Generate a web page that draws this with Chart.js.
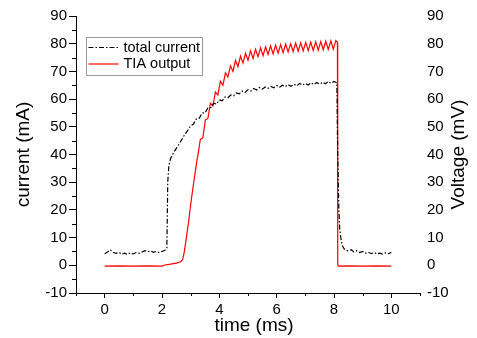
<!DOCTYPE html>
<html>
<head>
<meta charset="utf-8">
<script src="https://cdn.jsdelivr.net/npm/chart.js@4.4.1/dist/chart.umd.min.js"></script>
<style>
  html, body { margin: 0; padding: 0; background: #fff; }
</style>
</head>
<body>
<canvas id="chart" width="477" height="338"></canvas>
<script>
// time (ms), total current (mA)
const totalCurrent = [
  [0.0, 4.2], [0.1, 4.8], [0.2, 5.6], [0.3, 4.6], [0.4, 4.3], [0.5, 4.7], [0.6, 4.0], [0.7, 4.4],
  [0.8, 3.9], [0.9, 4.5], [1.0, 4.1], [1.1, 4.6], [1.2, 4.3], [1.3, 4.8], [1.4, 5.3], [1.5, 4.9],
  [1.6, 5.2], [1.7, 4.7], [1.8, 5.0], [1.9, 4.6], [2.0, 5.0], [2.1, 5.4], [2.17, 6.2], [2.2, 30.0],
  [2.24, 36.0], [2.3, 38.6], [2.4, 40.6], [2.5, 42.2], [2.6, 43.8], [2.7, 45.6], [2.8, 47.3], [2.9, 48.7],
  [3.0, 50.4], [3.1, 51.0], [3.2, 52.9], [3.3, 53.1], [3.4, 55.0], [3.5, 55.0], [3.6, 56.8], [3.7, 56.9],
  [3.8, 58.5], [3.9, 58.2], [4.0, 59.7], [4.1, 59.4], [4.2, 60.8], [4.3, 60.5], [4.4, 61.5], [4.5, 61.2],
  [4.6, 62.2], [4.7, 61.9], [4.8, 62.9], [4.9, 62.4], [5.0, 63.4], [5.1, 62.9], [5.2, 63.8], [5.3, 63.3],
  [5.4, 64.2], [5.5, 63.6], [5.6, 64.4], [5.7, 63.9], [5.8, 64.6], [5.9, 64.1], [6.0, 64.9], [6.1, 64.3],
  [6.2, 65.0], [6.3, 64.5], [6.4, 65.2], [6.5, 64.6], [6.6, 65.4], [6.7, 64.8], [6.8, 65.6], [6.9, 65.0],
  [7.0, 65.7], [7.1, 65.1], [7.2, 65.9], [7.3, 65.3], [7.4, 66.0], [7.5, 65.4], [7.6, 66.1], [7.7, 65.5],
  [7.8, 66.3], [7.9, 65.7], [8.0, 66.4], [8.1, 65.9], [8.13, 40.0], [8.17, 20.0], [8.2, 13.0], [8.25, 9.0],
  [8.3, 7.0], [8.35, 6.0], [8.4, 5.5], [8.5, 5.2], [8.6, 5.6], [8.7, 4.8], [8.8, 5.3], [8.9, 4.6],
  [9.0, 5.0], [9.1, 4.4], [9.2, 4.7], [9.3, 4.2], [9.4, 4.6], [9.5, 4.1], [9.6, 4.4], [9.7, 4.0],
  [9.8, 4.5], [9.9, 4.2], [10.0, 4.6]
];

// time (ms), TIA output (mV)
const tiaOutput = [
  [0.0, -0.3], [0.5, -0.2], [1.0, -0.3], [1.5, -0.2], [2.0, -0.3], [2.1, 0.1], [2.3, 0.4], [2.5, 0.8],
  [2.65, 1.3], [2.72, 2.0], [2.78, 5.0], [2.85, 10.0], [2.92, 15.0], [3.0, 22.0], [3.08, 28.0], [3.15, 33.0],
  [3.22, 38.0], [3.25, 39.5], [3.338, 45.5], [3.425, 46.0], [3.513, 52.5], [3.6, 53.0], [3.688, 58.5], [3.775, 57.5],
  [3.863, 62.5], [3.95, 61.5], [4.038, 66.5], [4.125, 65.0], [4.213, 69.5], [4.3, 68.0], [4.388, 72.0], [4.475, 70.0],
  [4.563, 74.0], [4.65, 71.7], [4.738, 75.5], [4.825, 73.0], [4.913, 76.5], [5.0, 74.0], [5.088, 77.4], [5.175, 74.7],
  [5.263, 78.0], [5.35, 75.3], [5.438, 78.5], [5.525, 75.7], [5.613, 78.9], [5.7, 76.1], [5.788, 79.2], [5.875, 76.3],
  [5.963, 79.5], [6.05, 76.6], [6.138, 79.7], [6.225, 76.8], [6.313, 79.9], [6.4, 77.0], [6.488, 80.0], [6.575, 77.1],
  [6.663, 80.2], [6.75, 77.3], [6.838, 80.3], [6.925, 77.4], [7.013, 80.5], [7.1, 77.5], [7.188, 80.6], [7.275, 77.6],
  [7.363, 80.7], [7.45, 77.7], [7.538, 80.8], [7.625, 77.8], [7.713, 80.9], [7.8, 77.9], [7.888, 81.0], [7.975, 78.0],
  [8.063, 81.1], [8.12, 80.5], [8.13, 0.5], [8.15, -0.3], [8.5, -0.2], [9.0, -0.3], [9.5, -0.2], [10.0, -0.3]
];

const xTicks = [0, 2, 4, 6, 8, 10];
const xMinor = [-1, 1, 3, 5, 7, 9, 11];
const yTicks = [-10, 0, 10, 20, 30, 40, 50, 60, 70, 80, 90];
const yMinor = [-5, 5, 15, 25, 35, 45, 55, 65, 75, 85];

const FONT = '"Liberation Sans", Arial, sans-serif';

const setTicks = list => scale => { scale.ticks = list.map(v => ({ value: v })); };

const extras = {
  id: 'extras',
  afterDraw(chart) {
    const { ctx, chartArea, scales: { x, y, y2 } } = chart;
    ctx.save();
    // minor ticks
    ctx.strokeStyle = '#000';
    ctx.lineWidth = 1;
    ctx.beginPath();
    xMinor.forEach(v => {
      const px = Math.round(x.getPixelForValue(v)) + 0.5;
      ctx.moveTo(px, chartArea.bottom);
      ctx.lineTo(px, chartArea.bottom + 3);
    });
    yMinor.forEach(v => {
      const py = Math.round(y.getPixelForValue(v)) + 0.5;
      ctx.moveTo(chartArea.left, py);
      ctx.lineTo(chartArea.left - 4, py);
    });
    ctx.stroke();

    ctx.fillStyle = '#000';
    ctx.font = '19px ' + FONT;
    ctx.textAlign = 'center';
    ctx.textBaseline = 'middle';

    // bottom axis title
    ctx.fillText('time (ms)', (chartArea.left + chartArea.right) / 2 + 6, x.bottom - 12);

    // right axis title, reads bottom to top
    ctx.translate(y2.right - 18, (chartArea.top + chartArea.bottom) / 2);
    ctx.rotate(-Math.PI / 2);
    ctx.fillText('Voltage (mV)', 0, 0);
    ctx.setTransform(1, 0, 0, 1, 0, 0);

    // legend box
    const bx = chartArea.left + 10.5, by = chartArea.top + 21.5;
    ctx.fillStyle = '#fff';
    ctx.fillRect(bx, by, 116, 38);
    ctx.strokeStyle = '#9a9a9a';
    ctx.strokeRect(bx, by, 116, 38);
    chart.data.datasets.forEach((ds, i) => {
      const ly = by + 10 + i * 16.5;
      ctx.beginPath();
      ctx.setLineDash(ds.borderDash || []);
      ctx.strokeStyle = ds.borderColor;
      ctx.lineWidth = ds.borderWidth;
      ctx.moveTo(bx + 2, ly);
      ctx.lineTo(bx + 32, ly);
      ctx.stroke();
      ctx.setLineDash([]);
      ctx.fillStyle = '#000';
      ctx.font = '14.5px ' + FONT;
      ctx.textAlign = 'left';
      ctx.fillText(ds.label, bx + 37, ly);
    });
    ctx.restore();
  }
};

new Chart(document.getElementById('chart'), {
  type: 'line',
  data: {
    datasets: [
      {
        label: 'total current',
        data: totalCurrent.map(p => ({ x: p[0], y: p[1] })),
        borderColor: '#000',
        borderWidth: 1.2,
        borderDash: [5, 2, 1.5, 2],
        pointRadius: 0,
        tension: 0,
        yAxisID: 'y'
      },
      {
        label: 'TIA output',
        data: tiaOutput.map(p => ({ x: p[0], y: p[1] })),
        borderColor: '#ff0000',
        borderWidth: 1.2,
        pointRadius: 0,
        tension: 0,
        yAxisID: 'y2'
      }
    ]
  },
  options: {
    responsive: false,
    animation: false,
    layout: { padding: { top: 16, left: 0, right: 0, bottom: 0 } },
    plugins: { legend: { display: false }, tooltip: { enabled: false } },
    scales: {
      x: {
        type: 'linear',
        min: -1,
        max: 11,
        afterBuildTicks: setTicks(xTicks),
        afterFit: s => { s.height = 45; },
        border: { display: true, color: '#000', width: 1 },
        grid: { drawOnChartArea: false, drawTicks: true, tickLength: 5, color: '#000' },
        ticks: { color: '#000', padding: 3, font: { family: FONT, size: 15 }, maxRotation: 0 },
        title: { display: false }
      },
      y: {
        position: 'left',
        min: -10,
        max: 90,
        afterBuildTicks: setTicks(yTicks),
        afterFit: s => { s.width = 76; },
        border: { display: true, color: '#000', width: 1 },
        grid: { drawOnChartArea: false, drawTicks: true, tickLength: 7, color: '#000' },
        ticks: { color: '#000', padding: 2, font: { family: FONT, size: 15 } },
        title: { display: true, text: 'current (mA)', color: '#000', font: { family: FONT, size: 19 }, padding: { top: 12, bottom: 0 } }
      },
      y2: {
        position: 'right',
        min: -10,
        max: 90,
        afterBuildTicks: setTicks(yTicks),
        afterFit: s => { s.width = 57; },
        border: { display: false },
        grid: { display: false, drawTicks: false },
        ticks: { color: '#000', padding: 7, font: { family: FONT, size: 15 } }
      }
    }
  },
  plugins: [extras]
});
</script>
</body>
</html>
